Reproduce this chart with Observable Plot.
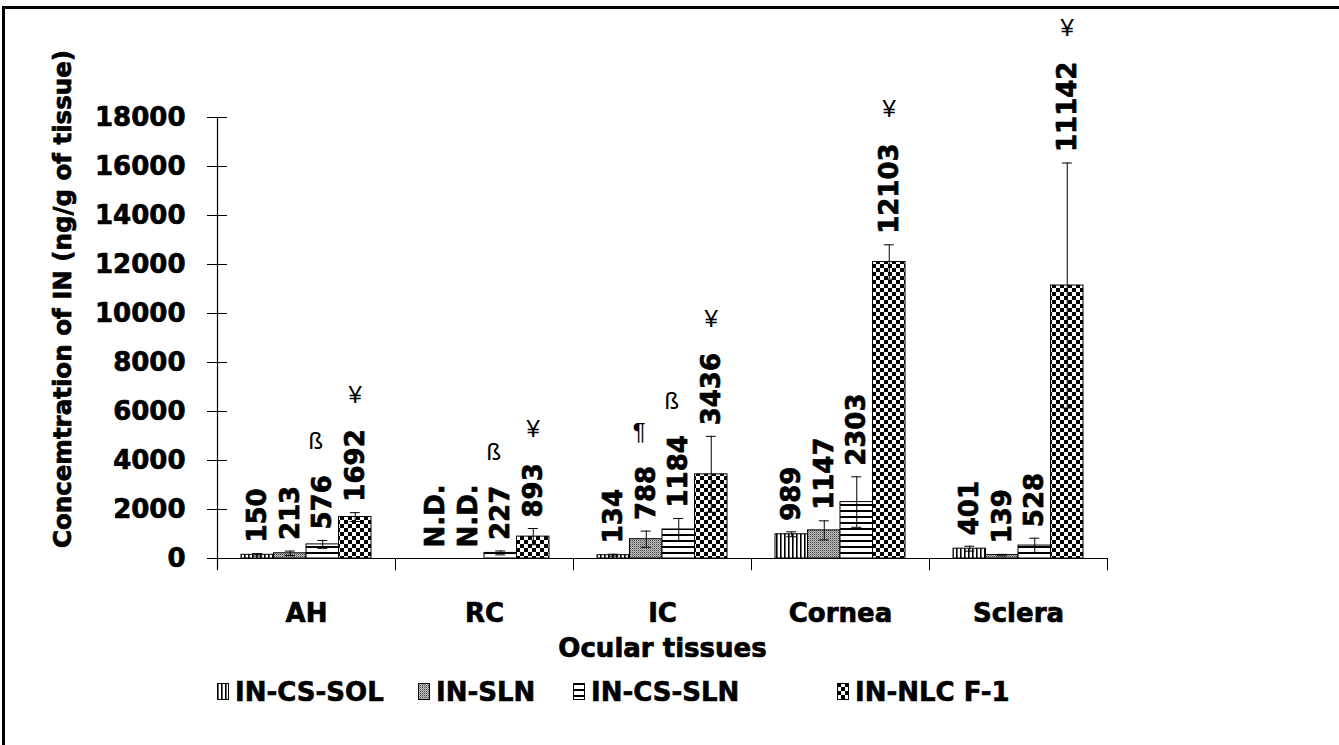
<!DOCTYPE html>
<html><head><meta charset="utf-8">
<script src="https://cdn.jsdelivr.net/npm/d3@7"></script>
<script src="https://cdn.jsdelivr.net/npm/@observablehq/plot@0.6"></script>
<style>
body{margin:0;background:#fff;}
#wrap{position:relative;width:1339px;height:745px;overflow:hidden;background:#fff;font-family:"DejaVu Sans",sans-serif;}
#border{position:absolute;left:2px;top:6px;right:-10px;bottom:-10px;border-top:3px solid #000;border-left:3px solid #000;}
#chart{position:absolute;left:0;top:0;}
#legend{position:absolute;top:677px;left:0;width:1339px;height:30px;font-weight:bold;font-size:26px;color:#000;-webkit-text-stroke:0.6px #000;}
.item{position:absolute;top:0;display:flex;align-items:center;white-space:nowrap;}
.item svg{margin-right:5px;}
</style></head><body>
<svg width="0" height="0" style="position:absolute">
<defs>
<pattern id="p0" patternUnits="userSpaceOnUse" width="4" height="4"><rect width="4" height="4" fill="#fff"/><rect x="0" width="1.6" height="4" fill="#000"/></pattern>
<pattern id="p1" patternUnits="userSpaceOnUse" width="2" height="2"><rect width="2" height="2" fill="#bdbdbd"/><rect width="1" height="1" fill="#4a4a4a"/><rect x="1" y="1" width="1" height="1" fill="#8f8f8f"/></pattern>
<pattern id="p2" patternUnits="userSpaceOnUse" width="6" height="6"><rect width="6" height="6" fill="#fff"/><rect y="0" width="6" height="2" fill="#000"/></pattern>
<pattern id="p3" patternUnits="userSpaceOnUse" width="8" height="8"><rect width="8" height="8" fill="#fff"/><rect width="4" height="4" fill="#000"/><rect x="4" y="4" width="4" height="4" fill="#000"/></pattern>
</defs></svg>
<div id="wrap"><div id="border"></div><div id="chart"></div><div id="legend"></div></div>
<script>
// ---- data ----
const tissues = ["AH", "RC", "IC", "Cornea", "Sclera"];
const series = ["IN-CS-SOL", "IN-SLN", "IN-CS-SLN", "IN-NLC F-1"];
const solValues   = [150, null, 134, 989, 401];
const slnValues   = [213, null, 788, 1147, 139];
const csSlnValues = [576, 227, 1184, 2303, 528];
const nlcValues   = [1692, 893, 3436, 12103, 11142];
const solErrors   = [50, 0, 40, 100, 100];
const slnErrors   = [90, 0, 330, 390, 30];
const csSlnErrors = [160, 80, 450, 1030, 300];
const nlcErrors   = [180, 330, 1550, 700, 5000];
const solMarks    = ["", "", "", "", ""];
const slnMarks    = ["", "", "¶", "", ""];
const csSlnMarks  = ["ß", "ß", "ß", "", ""];
const nlcMarks    = ["¥", "¥", "¥", "¥", "¥"];
const yTicks = [0, 2000, 4000, 6000, 8000, 10000, 12000, 14000, 16000, 18000];
const yTitle = "Concemtration of IN (ng/g of tissue)";
const xTitle = "Ocular tissues";

// ---- table ----
const valueLists = [solValues, slnValues, csSlnValues, nlcValues];
const errorLists = [solErrors, slnErrors, csSlnErrors, nlcErrors];
const markLists = [solMarks, slnMarks, csSlnMarks, nlcMarks];
const rows = [];
series.forEach((s, i) => tissues.forEach((t, j) => {
  const v = valueLists[i][j], e = errorLists[i][j];
  rows.push({series: s, si: i, tissue: t, value: v, err: e,
    top: v == null ? 0 : v + e,
    label: v == null ? "N.D." : String(v),
    mark: markLists[i][j]});
}));

// ---- geometry ----
const W = 1339, H = 670;
const left = 217, right = 1107;
const step = (right - left) / tissues.length;
const barW = 32.5;
const pad = (step - 4 * barW) / 2;
const offs = series.map((s, i) => pad + barW * (i + 0.5) - step / 2);
const digitW = 18.1, labelGap = 11, symGap = 26;
const heavy = {stroke: "#000", strokeWidth: 0.7};

const marks = [];
series.forEach((s, i) => {
  const d = rows.filter(r => r.si === i);
  const withV = d.filter(r => r.value != null);
  marks.push(Plot.barY(withV, {x: "tissue", y: "value", fill: `url(#p${i})`, stroke: "#000", strokeWidth: 1,
    insetLeft: pad + barW * i, insetRight: step - pad - barW * (i + 1)}));
  marks.push(Plot.ruleX(withV, {x: "tissue", y1: r => Math.max(0, r.value - r.err), y2: r => r.value + r.err, dx: offs[i], stroke: "#000", strokeWidth: 1}));
  marks.push(Plot.tickY(withV, {x: "tissue", y: r => r.value + r.err, dx: offs[i], insetLeft: step / 2 - 5, insetRight: step / 2 - 5, stroke: "#000", strokeWidth: 1}));
  marks.push(Plot.tickY(withV.filter(r => r.value - r.err > 0), {x: "tissue", y: r => r.value - r.err, dx: offs[i], insetLeft: step / 2 - 5, insetRight: step / 2 - 5, stroke: "#000", strokeWidth: 1}));
  marks.push(Plot.text(d, {x: "tissue", y: "top", text: "label", rotate: -90, textAnchor: "start", lineAnchor: "middle",
    dx: offs[i], dy: -labelGap, fontSize: 26, fontWeight: "bold", fontFamily: "DejaVu Sans", fill: "#000", ...heavy}));
  const withM = d.filter(r => r.mark);
  d3.groups(withM, r => r.label.length).forEach(([n, arr]) => {
    marks.push(Plot.text(arr, {x: "tissue", y: "top", text: "mark", lineAnchor: "bottom",
      dx: offs[i] - (i < 3 ? 7 : 0), dy: -(labelGap + n * digitW + symGap), fontSize: 24, fontWeight: "normal",
      fontFamily: "Liberation Sans", fill: "#000"}));
  });
});

const chart = Plot.plot({
  width: W, height: H,
  marginLeft: left, marginRight: W - right, marginTop: 117, marginBottom: H - 558,
  style: {fontFamily: "DejaVu Sans", fontWeight: "bold", color: "#000", background: "transparent"},
  x: {type: "band", domain: tissues, padding: 0},
  y: {domain: [0, 18000]},
  marks: [
    ...marks,
    Plot.ruleY([0], {stroke: "#000", strokeWidth: 1.2}),
    Plot.ruleX([tissues[0]], {x: d => d, y1: -500, y2: 18000, dx: -step / 2, stroke: "#000", strokeWidth: 1.2}),
    Plot.ruleX(tissues.slice(1), {x: d => d, y1: 0, y2: -500, dx: -step / 2, stroke: "#000", strokeWidth: 1}),
    Plot.ruleX([tissues[tissues.length - 1]], {x: d => d, y1: 0, y2: -500, dx: step / 2, stroke: "#000", strokeWidth: 1}),
    Plot.axisY({ticks: yTicks, tickFormat: d3.format("d"), tickSize: 20, dx: 10, tickPadding: 22, label: null,
      fontSize: 26, fontWeight: "bold", stroke: "#000", textStroke: "#000", textStrokeWidth: 0.7}),
    Plot.axisX({tickSize: 0, tickPadding: 45, label: null, fontSize: 26, fontWeight: "bold", textStroke: "#000", textStrokeWidth: 0.7}),
    Plot.text([yTitle], {frameAnchor: "left", textAnchor: "middle", lineAnchor: "middle", dx: 63 - left, dy: -39, rotate: -90,
      fontSize: 24.5, fontWeight: "bold", fill: "#000", ...heavy}),
    Plot.text([xTitle], {frameAnchor: "bottom", textAnchor: "middle", lineAnchor: "top", dy: 80, fontSize: 26, fontWeight: "bold", fill: "#000", ...heavy})
  ]
});
document.getElementById("chart").appendChild(chart);

// ---- legend ----
const legend = d3.select("#legend");
const legendX = [217, 418, 573, 837];
series.forEach((s, i) => {
  const it = legend.append("div").attr("class", "item").style("left", legendX[i] + "px");
  const sv = it.append("svg").attr("width", 13).attr("height", 18);
  sv.append("rect").attr("x", 0.5).attr("y", 0.5).attr("width", 11).attr("height", 16).attr("fill", `url(#p${i})`).attr("stroke", "#000");
  it.append("span").text(s);
});
</script>
</body></html>
